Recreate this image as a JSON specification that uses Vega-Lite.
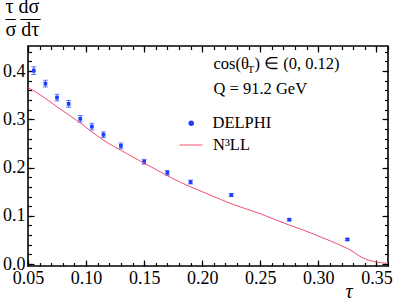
{
  "$schema": "https://vega.github.io/schema/vega-lite/v6.json",
  "width": 360,
  "height": 220,
  "autosize": {"type": "none"},
  "padding": {"left": 28, "top": 46, "right": 7, "bottom": 36},
  "background": "white",
  "config": {
    "view": {"stroke": "black", "strokeWidth": 1.6},
    "font": "Times New Roman, serif",
    "style": {
      "guide-label": {"font": "Times New Roman, serif"},
      "guide-title": {"font": "Times New Roman, serif"}
    },
    "text": {"font": "Times New Roman, serif"},
    "legend": {"labelFont": "Times New Roman, serif"},
    "axis": {
      "domain": false,
      "grid": false,
      "labelFont": "Times New Roman, serif",
      "labelFontSize": 18,
      "labelColor": "black",
      "tickColor": "black",
      "tickWidth": 1.2,
      "titleFont": "Times New Roman, serif",
      "titleFontWeight": "normal",
      "titleColor": "black"
    }
  },
  "datasets": {
    "points": [
      {"tau": 0.055, "v": 0.401, "err": 0.008},
      {"tau": 0.065, "v": 0.374, "err": 0.007},
      {"tau": 0.075, "v": 0.345, "err": 0.007},
      {"tau": 0.085, "v": 0.332, "err": 0.007},
      {"tau": 0.095, "v": 0.301, "err": 0.007},
      {"tau": 0.105, "v": 0.285, "err": 0.007},
      {"tau": 0.115, "v": 0.268, "err": 0.006},
      {"tau": 0.13, "v": 0.245, "err": 0.006},
      {"tau": 0.15, "v": 0.212, "err": 0.005},
      {"tau": 0.17, "v": 0.189, "err": 0.005},
      {"tau": 0.19, "v": 0.170, "err": 0.004},
      {"tau": 0.225, "v": 0.143, "err": 0.003},
      {"tau": 0.275, "v": 0.092, "err": 0.002},
      {"tau": 0.325, "v": 0.051, "err": 0.002}
    ],
    "curve": [
      {"tau": 0.05, "v": 0.366},
      {"tau": 0.061, "v": 0.350},
      {"tau": 0.075, "v": 0.326},
      {"tau": 0.0955, "v": 0.2916},
      {"tau": 0.1127, "v": 0.2605},
      {"tau": 0.135, "v": 0.229},
      {"tau": 0.1584, "v": 0.1983},
      {"tau": 0.1813, "v": 0.1693},
      {"tau": 0.2, "v": 0.150},
      {"tau": 0.2157, "v": 0.1341},
      {"tau": 0.2242, "v": 0.1258},
      {"tau": 0.25, "v": 0.1044},
      {"tau": 0.2758, "v": 0.080},
      {"tau": 0.2843, "v": 0.073},
      {"tau": 0.3015, "v": 0.0566},
      {"tau": 0.3187, "v": 0.0394},
      {"tau": 0.3244, "v": 0.033},
      {"tau": 0.3301, "v": 0.0255},
      {"tau": 0.3358, "v": 0.016},
      {"tau": 0.3416, "v": 0.0097},
      {"tau": 0.3502, "v": 0.004},
      {"tau": 0.3588, "v": 0.0015},
      {"tau": 0.36, "v": 0.001}
    ]
  },
  "layer": [
    {
      "data": {"name": "points"},
      "mark": {"type": "errorbar", "ticks": {"size": 5}, "color": "#2c4bff", "thickness": 1},
      "encoding": {
        "x": {
          "field": "tau", "type": "quantitative",
          "scale": {"domain": [0.05, 0.36], "nice": false, "zero": false},
          "axis": {
            "orient": "bottom",
            "values": [0.05, 0.1, 0.15, 0.2, 0.25, 0.3, 0.35],
            "format": ".2f",
            "tickSize": -6,
            "labelPadding": 9,
            "labelFlush": false,
            "labelOverlap": false,
            "labelFont": "Times New Roman, serif",
            "labelFontSize": 18,
            "title": "τ",
            "titleFont": "Times New Roman, serif",
            "titleFontSize": 20,
            "titleFontStyle": "italic",
            "titleX": 320.5,
            "titleY": 31,
            "titleAlign": "center",
            "titleBaseline": "alphabetic"
          }
        },
        "y": {
          "field": "v", "type": "quantitative",
          "scale": {"domain": [-0.004, 0.452], "nice": false, "zero": false},
          "axis": {
            "orient": "left",
            "values": [0, 0.1, 0.2, 0.3, 0.4],
            "format": ".1f",
            "tickSize": -6,
            "labelPadding": 9,
            "labelFlush": false,
            "labelOverlap": false,
            "labelFont": "Times New Roman, serif",
            "labelFontSize": 18,
            "title": ["τ  dσ", "–  —", "σ  dτ"],
            "titleFont": "Times New Roman, serif",
            "titleFontSize": 20,
            "titleAngle": 0,
            "titleAlign": "left",
            "titleBaseline": "alphabetic",
            "titleLineHeight": 11.5,
            "titleX": -23,
            "titleY": -33.5
          }
        },
        "yError": {"field": "err"}
      }
    },
    {
      "data": {"name": "points"},
      "mark": {"type": "point", "filled": true, "shape": "square", "size": 14, "opacity": 1},
      "encoding": {
        "x": {
          "field": "tau", "type": "quantitative",
          "scale": {"domain": [0.05, 0.36], "nice": false, "zero": false},
          "axis": {
            "orient": "bottom",
            "values": [0.05, 0.06, 0.07, 0.08, 0.09, 0.1, 0.11, 0.12, 0.13, 0.14, 0.15, 0.16, 0.17, 0.18, 0.19, 0.2, 0.21, 0.22, 0.23, 0.24, 0.25, 0.26, 0.27, 0.28, 0.29, 0.3, 0.31, 0.32, 0.33, 0.34, 0.35, 0.36],
            "labels": false,
            "tickSize": -3.5,
            "title": null
          }
        },
        "y": {
          "field": "v", "type": "quantitative",
          "scale": {"domain": [-0.004, 0.452], "nice": false, "zero": false},
          "axis": {
            "orient": "left",
            "values": [0, 0.02, 0.04, 0.06, 0.08, 0.1, 0.12, 0.14, 0.16, 0.18, 0.2, 0.22, 0.24, 0.26, 0.28, 0.3, 0.32, 0.34, 0.36, 0.38, 0.4, 0.42, 0.44],
            "labels": false,
            "tickSize": -3.5,
            "title": null
          }
        },
        "color": {
          "datum": "DELPHI",
          "type": "nominal",
          "scale": {"domain": ["DELPHI"], "range": ["#1f3fff"]},
          "legend": {
            "orient": "none",
            "legendX": 155,
            "legendY": 69,
            "title": null,
            "padding": 0,
            "labelFont": "Times New Roman, serif",
            "labelFontSize": 16.5,
            "labelColor": "black",
            "symbolType": "circle",
            "symbolSize": 30,
            "labelOffset": 13
          }
        }
      }
    },
    {
      "data": {"name": "curve"},
      "mark": {"type": "line", "strokeWidth": 1, "interpolate": "monotone"},
      "encoding": {
        "x": {
          "field": "tau", "type": "quantitative",
          "scale": {"domain": [0.05, 0.36], "nice": false, "zero": false},
          "axis": {
            "orient": "top",
            "values": [0.05, 0.1, 0.15, 0.2, 0.25, 0.3, 0.35],
            "labels": false,
            "tickSize": -6,
            "title": null
          }
        },
        "y": {
          "field": "v", "type": "quantitative",
          "scale": {"domain": [-0.004, 0.452], "nice": false, "zero": false},
          "axis": {
            "orient": "right",
            "values": [0, 0.1, 0.2, 0.3, 0.4],
            "labels": false,
            "tickSize": -6,
            "title": null
          }
        },
        "stroke": {
          "datum": "N³LL",
          "type": "nominal",
          "scale": {"domain": ["N³LL"], "range": ["#f0506e"]},
          "legend": {
            "orient": "none",
            "legendX": 151,
            "legendY": 87,
            "title": null,
            "padding": 0,
            "labelFont": "Times New Roman, serif",
            "labelFontSize": 16.5,
            "labelColor": "black",
            "symbolType": "stroke",
            "symbolSize": 529,
            "symbolStrokeWidth": 1,
            "labelOffset": 10
          }
        }
      }
    },
    {
      "data": {"values": [{}]},
      "mark": {"type": "text", "align": "left", "baseline": "alphabetic", "fontSize": 16.5, "color": "black", "text": "cos(θ"},
      "encoding": {
        "x": {
          "datum": 0.2097, "type": "quantitative",
          "scale": {"domain": [0.05, 0.36], "nice": false, "zero": false},
          "axis": {
            "orient": "top",
            "values": [0.05, 0.06, 0.07, 0.08, 0.09, 0.1, 0.11, 0.12, 0.13, 0.14, 0.15, 0.16, 0.17, 0.18, 0.19, 0.2, 0.21, 0.22, 0.23, 0.24, 0.25, 0.26, 0.27, 0.28, 0.29, 0.3, 0.31, 0.32, 0.33, 0.34, 0.35, 0.36],
            "labels": false,
            "tickSize": -3.5,
            "title": null
          }
        },
        "y": {
          "datum": 0.405, "type": "quantitative",
          "scale": {"domain": [-0.004, 0.452], "nice": false, "zero": false},
          "axis": {
            "orient": "right",
            "values": [0, 0.02, 0.04, 0.06, 0.08, 0.1, 0.12, 0.14, 0.16, 0.18, 0.2, 0.22, 0.24, 0.26, 0.28, 0.3, 0.32, 0.34, 0.36, 0.38, 0.4, 0.42, 0.44],
            "labels": false,
            "tickSize": -3.5,
            "title": null
          }
        }
      }
    },
    {
      "data": {"values": [{}]},
      "mark": {"type": "text", "align": "left", "baseline": "alphabetic", "fontSize": 11, "color": "black", "text": "T", "dx": 34, "dy": 4},
      "encoding": {
        "x": {"datum": 0.2097, "type": "quantitative", "axis": null},
        "y": {"datum": 0.405, "type": "quantitative", "axis": null}
      }
    },
    {
      "data": {"values": [{}]},
      "mark": {"type": "text", "align": "left", "baseline": "alphabetic", "fontSize": 16.5, "color": "black", "text": ") ∈ (0, 0.12)", "dx": 41},
      "encoding": {
        "x": {"datum": 0.2097, "type": "quantitative", "axis": null},
        "y": {"datum": 0.405, "type": "quantitative", "axis": null}
      }
    },
    {
      "data": {"values": [{}]},
      "mark": {"type": "text", "align": "left", "baseline": "alphabetic", "fontSize": 16.5, "color": "black", "text": "Q = 91.2 GeV"},
      "encoding": {
        "x": {"datum": 0.2097, "type": "quantitative", "axis": null},
        "y": {"datum": 0.352, "type": "quantitative", "axis": null}
      }
    }
  ],
  "resolve": {"axis": {"x": "independent", "y": "independent"}}
}
